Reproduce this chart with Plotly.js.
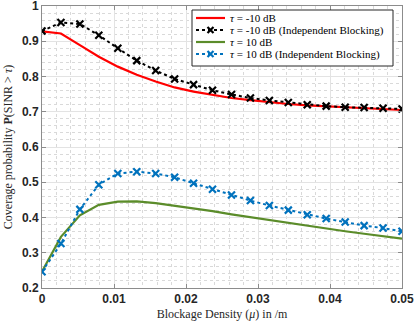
<!DOCTYPE html>
<html>
<head>
<meta charset="utf-8">
<script src="https://cdn.plot.ly/plotly-3.0.1.min.js"></script>
<style>
  html, body { margin: 0; padding: 0; background: #fff; }
  #chart { width: 415px; height: 323px; }
</style>
</head>
<body>
<div id="chart"></div>
<script>
// blockage density, 20 samples from 0 to 0.05
const mu = [0, 0.00263, 0.00526, 0.00789, 0.01053, 0.01316, 0.01579, 0.01842, 0.02105, 0.02368,
            0.02632, 0.02895, 0.03158, 0.03421, 0.03684, 0.03947, 0.04211, 0.04474, 0.04737, 0.05];

const covLow = [0.928, 0.922, 0.889, 0.856, 0.828, 0.805, 0.786, 0.769, 0.757, 0.747,
                0.739, 0.733, 0.727, 0.722, 0.718, 0.715, 0.713, 0.710, 0.708, 0.705];
const covLowIndep = [0.929, 0.953, 0.949, 0.917, 0.880, 0.845, 0.817, 0.793, 0.777, 0.761,
                     0.749, 0.739, 0.732, 0.726, 0.720, 0.716, 0.713, 0.712, 0.710, 0.708];
const covHigh = [0.247, 0.345, 0.406, 0.436, 0.445, 0.446, 0.441, 0.434, 0.426, 0.418,
                 0.409, 0.401, 0.392, 0.383, 0.375, 0.368, 0.361, 0.354, 0.347, 0.340];
const covHighIndep = [0.246, 0.326, 0.423, 0.493, 0.525, 0.530, 0.525, 0.514, 0.497, 0.480,
                      0.464, 0.448, 0.434, 0.421, 0.408, 0.397, 0.387, 0.377, 0.370, 0.361];

const names = [
  '<i>τ</i> = -10 dB',
  '<i>τ</i> = -10 dB (Independent Blocking)',
  '<i>τ</i> = 10 dB',
  '<i>τ</i> = 10 dB (Independent Blocking)'
];
const colors = ['#ff0000', '#000000', '#5b8c2a', '#0072bd'];
const dotted = [false, true, false, true];

const xTicks = [0, 0.01, 0.02, 0.03, 0.04, 0.05];
const xTickText = ['0', '0.01', '0.02', '0.03', '0.04', '0.05'];
const yTicks = [0.2, 0.3, 0.4, 0.5, 0.6, 0.7, 0.8, 0.9, 1];
const yTickText = ['0.2', '0.3', '0.4', '0.5', '0.6', '0.7', '0.8', '0.9', '1'];

const serif = 'Liberation Serif, DejaVu Serif, serif';

const series = [covLow, covLowIndep, covHigh, covHighIndep];
const traces = series.map((ys, k) => {
  const t = { x: mu, y: ys, name: names[k], showlegend: false,
    mode: dotted[k] ? 'lines+markers' : 'lines',
    line: { color: colors[k], width: dotted[k] ? 2 : 2.2, dash: dotted[k] ? 'dot' : 'solid' } };
  if (dotted[k]) {
    t.marker = { symbol: 'x-thin-open', size: 7, color: colors[k], line: { width: 2.2, color: colors[k] } };
  }
  return t;
});

// hand-made legend (MATLAB style, tight rows), placed in paper coordinates
const plotL = 42, plotR = 402, plotT = 6, plotB = 288;
const px = v => (v - plotL) / (plotR - plotL);
const py = v => (plotB - v) / (plotB - plotT);
const legL = 192, legR = 393, legT = 10, legB = 66;
const rowY = [18, 30, 42, 54];
const sampleL = 196, sampleR = 225, textL = 228;

const shapes = [{
  type: 'rect', xref: 'paper', yref: 'paper',
  x0: px(legL), x1: px(legR), y0: py(legB), y1: py(legT),
  fillcolor: '#ffffff', line: { color: '#262626', width: 1 }, layer: 'above'
}];
const annotations = [];
names.forEach((n, k) => {
  shapes.push({
    type: 'line', xref: 'paper', yref: 'paper', layer: 'above',
    x0: px(sampleL), x1: px(sampleR), y0: py(rowY[k]), y1: py(rowY[k]),
    line: { color: colors[k], width: dotted[k] ? 2 : 2.2, dash: dotted[k] ? 'dot' : 'solid' }
  });
  if (dotted[k]) {
    shapes.push({
      type: 'path', xref: 'paper', yref: 'paper', layer: 'above',
      xsizemode: 'pixel', ysizemode: 'pixel',
      xanchor: px((sampleL + sampleR) / 2), yanchor: py(rowY[k]),
      path: 'M-3,-3L3,3M-3,3L3,-3',
      line: { color: colors[k], width: 2.2 }
    });
  }
  annotations.push({
    xref: 'paper', yref: 'paper', x: px(textL), y: py(rowY[k]),
    xanchor: 'left', yanchor: 'middle', showarrow: false, text: n,
    font: { family: serif, size: 11, color: '#000000' }
  });
});

const axisCommon = {
  showline: true, linecolor: '#8c8c8c', linewidth: 1, mirror: 'ticks',
  ticks: 'inside', ticklen: 4, tickcolor: '#8c8c8c',
  showgrid: true, gridcolor: '#e3e3e3', gridwidth: 1,
  zeroline: false, ticklabeloverflow: 'allow',
  tickfont: { family: 'Liberation Sans, Arial, sans-serif', size: 12, color: '#262626', weight: 'bold' }
};

const layout = {
  width: 415, height: 323,
  margin: { l: plotL, r: 415 - plotR, t: plotT, b: 323 - plotB },
  paper_bgcolor: '#ffffff', plot_bgcolor: '#ffffff',
  showlegend: false,
  shapes: shapes,
  annotations: annotations,
  xaxis: Object.assign({}, axisCommon, {
    range: [0, 0.05], tickvals: xTicks, ticktext: xTickText,
    minor: { dtick: 0.002, showgrid: true, gridcolor: '#d9d9d9', griddash: 'dot', gridwidth: 1, ticks: '' },
    title: { text: 'Blockage Density (<i>μ</i>) in /m', standoff: 4,
             font: { family: serif, size: 12, color: '#262626' } }
  }),
  yaxis: Object.assign({}, axisCommon, {
    range: [0.2, 1], tickvals: yTicks, ticktext: yTickText,
    minor: { dtick: 0.02, showgrid: true, gridcolor: '#d9d9d9', griddash: 'dot', gridwidth: 1, ticks: '' },
    title: { text: 'Coverage probability <b>P</b>(SINR &gt; <i>τ</i>)', standoff: 6,
             font: { family: serif, size: 12, color: '#262626' } }
  })
};

Plotly.newPlot('chart', traces, layout, { displayModeBar: false, staticPlot: true });
</script>
</body>
</html>
